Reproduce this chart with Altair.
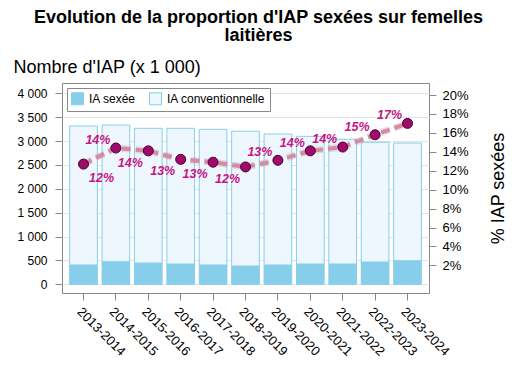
import altair as alt
import pandas as pd

seasons = ["2013-2014", "2014-2015", "2015-2016", "2016-2017", "2017-2018", "2018-2019",
           "2019-2020", "2020-2021", "2021-2022", "2022-2023", "2023-2024"]
total_iap = [3315, 3336, 3267, 3267, 3246, 3206, 3148, 3099, 3037, 2974, 2959]
sexed_iap = [404, 473, 446, 425, 404, 383, 404, 425, 425, 467, 494]
pct_sexed = [12.7, 14.4, 14.1, 13.2, 12.9, 12.4, 13.1, 14.1, 14.5, 15.8, 17.0]
pct_labels = ["12%", "14%", "14%", "13%", "13%", "12%", "13%", "14%", "14%", "15%", "17%"]
label_side = ["below-right", "above-left", "below-left", "below-left", "below-left", "below-left",
              "above-left", "above-left", "above-left", "above-left", "above-left"]
series = ["IA sexée", "IA conventionnelle"]
left_ticks = [0, 500, 1000, 1500, 2000, 2500, 3000, 3500, 4000]
right_ticks = [2, 4, 6, 8, 10, 12, 14, 16, 18, 20]

FONT = "Liberation Sans"

rows = []
for s, t, x in zip(seasons, total_iap, sexed_iap):
    rows.append({"season": s, "type": series[0], "value": x, "ord": 0})
    rows.append({"season": s, "type": series[1], "value": t - x, "ord": 1})
bars_df = pd.DataFrame(rows)
pct_df = pd.DataFrame({"season": seasons, "pct": pct_sexed, "label": pct_labels, "side": label_side})

xscale = alt.Scale(domain=seasons, paddingInner=0.145, paddingOuter=0.236)
xaxis = alt.Axis(title=None, labelAngle=45, labelFont=FONT, labelFontSize=13, labelColor="#000",
                 tickColor="#888", tickSize=7, labelPadding=5, domain=False, grid=False)

bars = alt.Chart(bars_df).mark_bar(stroke="#87CEEB", strokeWidth=1).encode(
    x=alt.X("season:N", scale=xscale, axis=xaxis, sort=seasons),
    y=alt.Y("value:Q", stack="zero",
            scale=alt.Scale(domain=[-182, 4216], nice=False, zero=False),
            axis=alt.Axis(title="Nombre d'IAP (x 1 000)", values=left_ticks,
                          labelExpr="replace(format(datum.value, ','), ',', ' ')",
                          labelFont=FONT, labelFontSize=12, labelColor="#000", labelPadding=8,
                          tickColor="#888", tickSize=7, domain=False,
                          grid=True, gridColor="#e3e3e3",
                          titleAngle=0, titleAlign="left", titleBaseline="middle",
                          titleX=-49, titleY=-16, titleFont=FONT, titleFontSize=18,
                          titleFontWeight="normal", titleColor="#000")),
    color=alt.Color("type:N", scale=alt.Scale(domain=series, range=["#87CEEB", "#eef7fd"]),
                    legend=alt.Legend(title=None, orient="none", legendX=5, legendY=5,
                                      direction="horizontal", symbolType="square", symbolSize=144,
                                      symbolStrokeColor="#87CEEB", symbolStrokeWidth=1,
                                      labelFont=FONT, labelFontSize=12, labelColor="#000",
                                      labelOffset=5, columnPadding=11,
                                      strokeColor="#888", fillColor="white", padding=4)),
    order=alt.Order("ord:Q"),
)

yright = alt.Scale(domain=[-0.92, 21.27], nice=False, zero=False)
right_axis = alt.Axis(orient="right", title="% IAP sexées", values=right_ticks,
                      labelExpr="datum.value + '%'", labelFont=FONT, labelFontSize=13,
                      labelColor="#000", labelPadding=6, tickColor="#888", tickSize=7,
                      domain=False, grid=False,
                      titleAngle=270, titleAlign="center", titleBaseline="middle",
                      titleX=69, titleY=105, titleFont=FONT, titleFontSize=18,
                      titleFontWeight="normal", titleColor="#000")
yenc = alt.Y("pct:Q", scale=yright, axis=right_axis)

halo = alt.Chart(pct_df).mark_line(color="#9a9a9a", strokeWidth=7, strokeDash=[9, 5],
                                   opacity=0.3)
line = alt.Chart(pct_df).mark_line(color="#dc7e9e", strokeWidth=4, strokeDash=[9, 5],
                                   opacity=0.9)
points = alt.Chart(pct_df).mark_point(filled=True, size=100, color="#9e0c6b", stroke="#4d0030",
                                      strokeWidth=1, opacity=1)

def labels(side, dx, dy):
    return alt.Chart(pct_df).mark_text(font=FONT, fontSize=12.5, fontWeight="bold",
                                       fontStyle="italic", color="#c71585", dx=dx, dy=dy).encode(
        text="label:N"
    ).transform_filter(alt.datum.side == side)

right = alt.layer(halo, line, points, labels("below-right", 18, 14), labels("above-left", -18, -8),
                  labels("below-left", -18, 12)).encode(
    x=alt.X("season:N", scale=xscale, axis=xaxis, sort=seasons),
    y=yenc,
)

chart = alt.layer(bars, right).resolve_scale(y="independent").properties(
    width=367, height=210,
    title=alt.TitleParams(text=["Evolution de la proportion d'IAP sexées sur femelles", "laitières"],
                          font=FONT, fontSize=18, fontWeight="bold", color="#000",
                          anchor="middle", lineHeight=18.5, dx=13, dy=-9),
    autosize=alt.AutoSizeParams(type="none"),
    padding={"left": 54, "top": 75, "right": 80, "bottom": 65},
).configure_view(stroke="#888", strokeWidth=1)

chart.save("out.html", embed_options={"renderer": "svg", "actions": False})
